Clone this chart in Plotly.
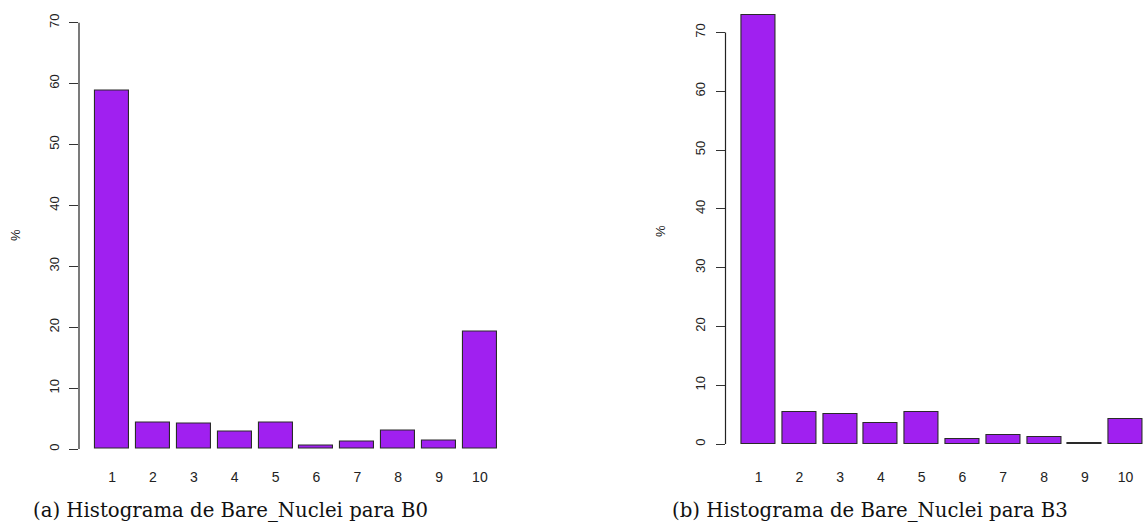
import plotly.graph_objects as go

W, H = 1146, 523

# Bare_Nuclei categories and percentage of records in each
categories = ["1", "2", "3", "4", "5", "6", "7", "8", "9", "10"]
pct_b0 = [58.86, 4.39, 4.10, 2.78, 4.39, 0.59, 1.17, 3.07, 1.32, 19.33]
pct_b3 = [73.0, 5.45, 5.15, 3.5, 5.45, 0.8, 1.55, 1.2, 0.15, 4.3]
y_ticks = [0, 10, 20, 30, 40, 50, 60, 70]
captions = ["(a) Histograma de Bare_Nuclei para B0",
            "(b) Histograma de Bare_Nuclei para B3"]

# bar centres as in R's barplot (width 1, space 0.2)
centers = [0.7 + 1.2 * i for i in range(len(categories))]

BAR = "#A020F0"
TXT = "#222222"


def px_x(p):
    return p / W


def px_y(p):
    return (H - p) / H


fig = go.Figure()
for k, vals in enumerate([pct_b0, pct_b3]):
    fig.add_trace(go.Bar(
        x=centers, y=vals, width=1.0,
        marker=dict(color=BAR, line=dict(color="#2a2a2a", width=1.1)),
        xaxis="x" if k == 0 else "x2",
        yaxis="y" if k == 0 else "y2",
        showlegend=False, hoverinfo="skip",
    ))

xa_common = dict(
    tickmode="array", tickvals=centers, ticktext=categories,
    showline=False, showgrid=False, zeroline=False, ticks="",
    tickfont=dict(family="Liberation Sans, Arial", size=14, color=TXT),
)
ya_common = dict(
    tickmode="array", tickvals=y_ticks,
    showline=False, showgrid=False, zeroline=False,
    ticks="outside", ticklen=9, tickwidth=1, tickcolor="#333333",
    tickangle=-90,
    tickfont=dict(family="Liberation Sans, Arial", size=13, color=TXT),
)

fig.update_layout(
    width=W, height=H,
    margin=dict(l=0, r=0, t=0, b=0),
    paper_bgcolor="white", plot_bgcolor="white",
    bargap=0,
    xaxis=dict(domain=[px_x(79), px_x(513)], range=[-0.272, 12.472],
               anchor="y", ticklabelstandoff=1, **xa_common),
    yaxis=dict(domain=[px_y(466.05), px_y(5.6)], range=[-2.8, 72.8],
               anchor="x", ticklabelstandoff=5, **ya_common),
    xaxis2=dict(domain=[px_x(725.5), 1.0], range=[-0.272, 12.10],
                anchor="y2", ticklabelstandoff=6, **xa_common),
    yaxis2=dict(domain=[px_y(460.5), px_y(0.06)], range=[-2.8, 75.5],
                anchor="x2", ticklabelstandoff=5, **ya_common),
)

# y axis lines spanning only the tick range, as R draws them
for xr, yr in [("x domain", "y"), ("x2 domain", "y2")]:
    fig.add_shape(type="line", xref=xr, yref=yr, x0=0, x1=0,
                  y0=y_ticks[0], y1=y_ticks[-1],
                  line=dict(color="#222222", width=1.2))

# y axis titles
for xp, yp in [(15, 235), (661, 231)]:
    fig.add_annotation(x=px_x(xp), y=px_y(yp), xref="paper", yref="paper",
                       text="%", textangle=-90, showarrow=False,
                       font=dict(family="Liberation Sans, Arial", size=13, color=TXT),
                       xanchor="center", yanchor="middle")

# sub-figure captions
for xp, cap in [(230, captions[0]), (870, captions[1])]:
    fig.add_annotation(x=px_x(xp), y=px_y(510), xref="paper", yref="paper",
                       text=cap, showarrow=False,
                       font=dict(family="DejaVu Serif, serif", size=19.7, color="#111111"),
                       xanchor="center", yanchor="middle")

fig.write_html("out.html")
